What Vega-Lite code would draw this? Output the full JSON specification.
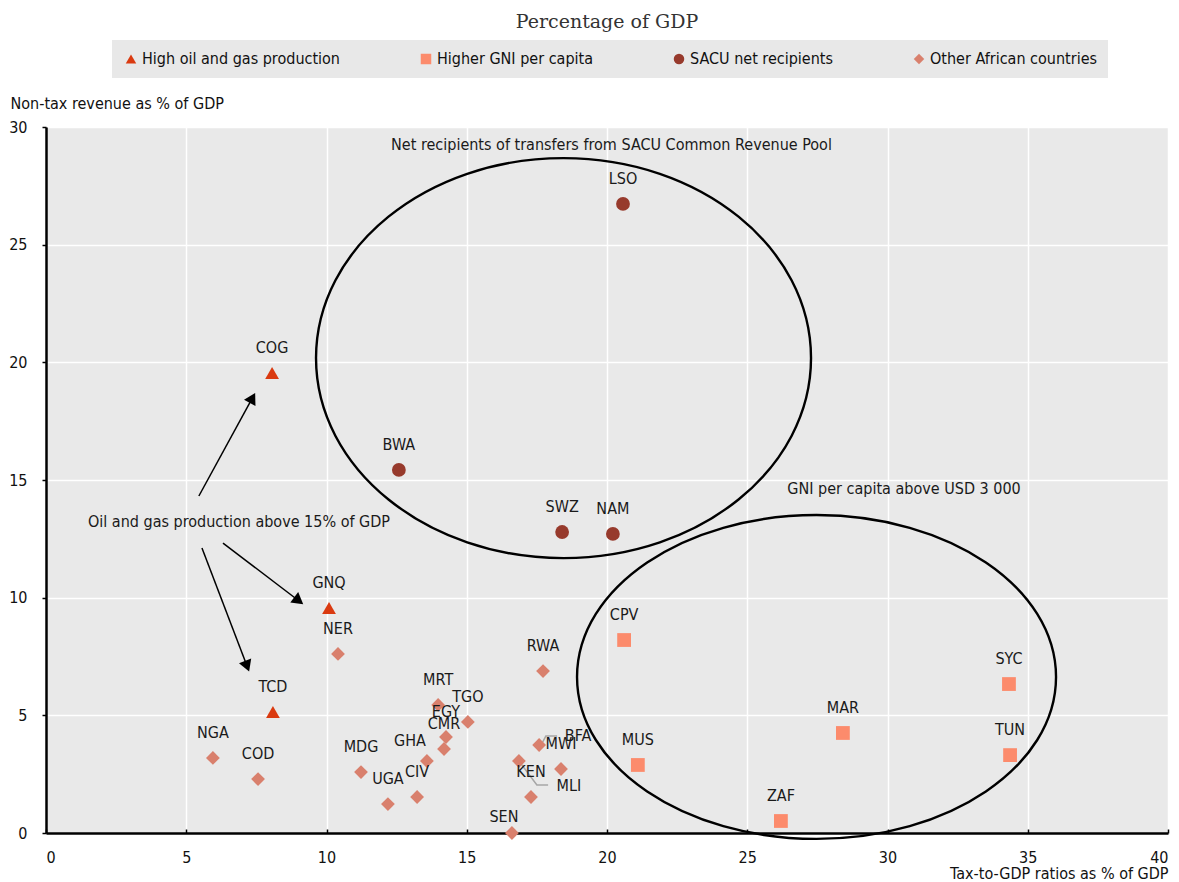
{
  "$schema": "https://vega.github.io/schema/vega-lite/v6.json",
  "width": 1122,
  "height": 706,
  "autosize": {"type": "none"},
  "padding": {"left": 46, "top": 127, "right": 11, "bottom": 49},
  "background": "white",
  "title": {
    "text": "Percentage of GDP",
    "font": "DejaVu Serif",
    "fontSize": 19,
    "fontWeight": "normal",
    "color": "#333333",
    "anchor": "middle",
    "offset": 8
  },
  "config": {
    "font": "Liberation Sans Narrow, DejaVu Sans Condensed, Arial Narrow, sans-serif",
    "view": {"fill": "#e9e9e9", "stroke": null},
    "axis": {
      "labelFont": "Liberation Sans Narrow, DejaVu Sans Condensed, sans-serif",
      "titleFont": "Liberation Sans Narrow, DejaVu Sans Condensed, sans-serif",
      "labelFontSize": 16,
      "titleFontSize": 16,
      "titleFontWeight": "normal",
      "labelColor": "#111111",
      "titleColor": "#111111",
      "domainColor": "#000000",
      "domainWidth": 2.5,
      "tickColor": "#000000",
      "tickWidth": 1.5,
      "gridColor": "#ffffff",
      "gridWidth": 1.5,
      "gridOpacity": 1
    },
    "legend": {
      "labelFont": "Liberation Sans Narrow, DejaVu Sans Condensed, sans-serif",
      "labelFontSize": 16,
      "labelColor": "#111111"
    }
  },
  "datasets": {
    "countries": [
      {"code": "COG", "group": "High oil and gas production", "tax": 8.06, "nontax": 19.55},
      {"code": "GNQ", "group": "High oil and gas production", "tax": 10.09, "nontax": 9.56},
      {"code": "TCD", "group": "High oil and gas production", "tax": 8.09, "nontax": 5.14},
      {"code": "LSO", "group": "SACU net recipients", "tax": 20.57, "nontax": 26.73},
      {"code": "BWA", "group": "SACU net recipients", "tax": 12.58, "nontax": 15.43},
      {"code": "SWZ", "group": "SACU net recipients", "tax": 18.40, "nontax": 12.79},
      {"code": "NAM", "group": "SACU net recipients", "tax": 20.21, "nontax": 12.71},
      {"code": "CPV", "group": "Higher GNI per capita", "tax": 20.61, "nontax": 8.20},
      {"code": "SYC", "group": "Higher GNI per capita", "tax": 34.33, "nontax": 6.33},
      {"code": "MAR", "group": "Higher GNI per capita", "tax": 28.41, "nontax": 4.25},
      {"code": "TUN", "group": "Higher GNI per capita", "tax": 34.37, "nontax": 3.31},
      {"code": "MUS", "group": "Higher GNI per capita", "tax": 21.10, "nontax": 2.89},
      {"code": "ZAF", "group": "Higher GNI per capita", "tax": 26.20, "nontax": 0.51},
      {"code": "NER", "group": "Other African countries", "tax": 10.41, "nontax": 7.61},
      {"code": "RWA", "group": "Other African countries", "tax": 17.72, "nontax": 6.88},
      {"code": "NGA", "group": "Other African countries", "tax": 5.95, "nontax": 3.19},
      {"code": "COD", "group": "Other African countries", "tax": 7.56, "nontax": 2.29},
      {"code": "MRT", "group": "Other African countries", "tax": 13.98, "nontax": 5.44},
      {"code": "TGO", "group": "Other African countries", "tax": 15.04, "nontax": 4.72},
      {"code": "EGY", "group": "Other African countries", "tax": 14.26, "nontax": 4.08},
      {"code": "CMR", "group": "Other African countries", "tax": 14.19, "nontax": 3.57},
      {"code": "GHA", "group": "Other African countries", "tax": 13.58, "nontax": 3.06},
      {"code": "MDG", "group": "Other African countries", "tax": 11.23, "nontax": 2.59},
      {"code": "UGA", "group": "Other African countries", "tax": 12.19, "nontax": 1.23},
      {"code": "CIV", "group": "Other African countries", "tax": 13.23, "nontax": 1.53},
      {"code": "SEN", "group": "Other African countries", "tax": 16.61, "nontax": 0.0},
      {"code": "MLI", "group": "Other African countries", "tax": 16.86, "nontax": 3.06},
      {"code": "BFA", "group": "Other African countries", "tax": 17.58, "nontax": 3.74},
      {"code": "MWI", "group": "Other African countries", "tax": 18.36, "nontax": 2.72},
      {"code": "KEN", "group": "Other African countries", "tax": 17.29, "nontax": 1.53}
    ],
    "notes": [
      {"text": "Net recipients of transfers from SACU Common Revenue Pool", "tax": 20.16, "nontax": 29.24},
      {"text": "GNI per capita above USD 3 000", "tax": 30.59, "nontax": 14.62},
      {"text": "Oil and gas production above 15% of GDP", "tax": 6.88, "nontax": 13.22}
    ],
    "arrows": [
      {"id": "COG", "tax": 5.45, "nontax": 14.32, "tax2": 7.36, "nontax2": 18.49},
      {"id": "GNQ", "tax": 6.31, "nontax": 12.32, "tax2": 9.01, "nontax2": 9.87},
      {"id": "TCD", "tax": 5.56, "nontax": 12.11, "tax2": 7.17, "nontax2": 7.09}
    ],
    "leaders": [
      {"id": "BFA", "k": 1, "tax": 17.65, "nontax": 3.74},
      {"id": "BFA", "k": 2, "tax": 17.82, "nontax": 4.12},
      {"id": "BFA", "k": 3, "tax": 18.22, "nontax": 4.12},
      {"id": "MLI", "k": 1, "tax": 16.86, "nontax": 3.06},
      {"id": "MLI", "k": 2, "tax": 17.50, "nontax": 2.04},
      {"id": "MLI", "k": 3, "tax": 17.90, "nontax": 2.04}
    ]
  },
  "layer": [
    {
      "data": {"values": [{"tax": 18.45, "nontax": 20.18}]},
      "mark": {"type": "point", "shape": "M-1,0A1,0.808 0 1,1 1,0A1,0.808 0 1,1 -1,0Z", "size": 245025, "filled": false, "stroke": "#000000", "strokeWidth": 2.4, "opacity": 1},
      "encoding": {
        "x": {"field": "tax", "type": "quantitative"},
        "y": {"field": "nontax", "type": "quantitative"}
      }
    },
    {
      "data": {"values": [{"tax": 27.47, "nontax": 6.63}]},
      "mark": {"type": "point", "shape": "M-1,0A1,0.676 0 1,1 1,0A1,0.676 0 1,1 -1,0Z", "size": 229441, "filled": false, "stroke": "#000000", "strokeWidth": 2.4, "opacity": 1},
      "encoding": {
        "x": {"field": "tax", "type": "quantitative"},
        "y": {"field": "nontax", "type": "quantitative"}
      }
    },
    {
      "data": {"name": "arrows"},
      "mark": {"type": "rule", "color": "#000000", "strokeWidth": 1.5},
      "encoding": {
        "x": {"field": "tax", "type": "quantitative"},
        "y": {"field": "nontax", "type": "quantitative"},
        "x2": {"field": "tax2"},
        "y2": {"field": "nontax2"}
      }
    },
    {
      "data": {"name": "arrows"},
      "transform": [{"filter": "datum.id === 'COG'"}],
      "mark": {"type": "point", "shape": "triangle-up", "size": 170, "filled": true, "color": "#000000", "opacity": 1, "angle": 28.6},
      "encoding": {
        "x": {"field": "tax2", "type": "quantitative"},
        "y": {"field": "nontax2", "type": "quantitative"}
      }
    },
    {
      "data": {"name": "arrows"},
      "transform": [{"filter": "datum.id === 'GNQ'"}],
      "mark": {"type": "point", "shape": "triangle-up", "size": 170, "filled": true, "color": "#000000", "opacity": 1, "angle": 127.3},
      "encoding": {
        "x": {"field": "tax2", "type": "quantitative"},
        "y": {"field": "nontax2", "type": "quantitative"}
      }
    },
    {
      "data": {"name": "arrows"},
      "transform": [{"filter": "datum.id === 'TCD'"}],
      "mark": {"type": "point", "shape": "triangle-up", "size": 170, "filled": true, "color": "#000000", "opacity": 1, "angle": 159.1},
      "encoding": {
        "x": {"field": "tax2", "type": "quantitative"},
        "y": {"field": "nontax2", "type": "quantitative"}
      }
    },
    {
      "data": {"name": "leaders"},
      "mark": {"type": "line", "color": "#a6a6a6", "strokeWidth": 1.5},
      "encoding": {
        "x": {"field": "tax", "type": "quantitative"},
        "y": {"field": "nontax", "type": "quantitative"},
        "detail": {"field": "id"},
        "order": {"field": "k"}
      }
    },
    {
      "data": {"name": "countries"},
      "mark": {"type": "point", "filled": true, "opacity": 1, "size": 190},
      "encoding": {
        "x": {
          "field": "tax", "type": "quantitative",
          "scale": {"domain": [0, 40], "nice": false},
          "axis": {
            "values": [0, 5, 10, 15, 20, 25, 30, 35, 40],
            "tickSize": -4,
            "labelPadding": 20,
            "title": "Tax-to-GDP ratios as % of GDP",
            "titleAnchor": "end",
            "titleAlign": "right",
            "titleX": 1122,
            "titleY": 45,
            "titleBaseline": "alphabetic"
          }
        },
        "y": {
          "field": "nontax", "type": "quantitative",
          "scale": {"domain": [0, 30], "nice": false},
          "axis": {
            "values": [0, 5, 10, 15, 20, 25, 30],
            "tickSize": 4,
            "labelPadding": 15,
            "title": "Non-tax revenue as % of GDP",
            "titleAngle": 0,
            "titleAlign": "left",
            "titleAnchor": "start",
            "titleX": -36,
            "titleY": -19,
            "titleBaseline": "alphabetic"
          }
        },
        "color": {
          "field": "group", "type": "nominal",
          "scale": {
            "domain": ["High oil and gas production", "Higher GNI per capita", "SACU net recipients", "Other African countries"],
            "range": ["#da3a10", "#fc8b6c", "#973a2c", "#d9806d"]
          },
          "legend": {
            "title": null,
            "orient": "none",
            "legendX": 66,
            "legendY": -87,
            "direction": "horizontal",
            "fillColor": "#e8e8e8",
            "padding": 11,
            "columnPadding": 78,
            "symbolSize": 110,
            "labelOffset": 3,
            "labelLimit": 400
          }
        },
        "shape": {
          "field": "group", "type": "nominal",
          "scale": {
            "domain": ["High oil and gas production", "Higher GNI per capita", "SACU net recipients", "Other African countries"],
            "range": ["triangle-up", "square", "circle", "diamond"]
          },
          "legend": {
            "title": null,
            "orient": "none",
            "legendX": 66,
            "legendY": -87,
            "direction": "horizontal",
            "fillColor": "#e8e8e8",
            "padding": 11,
            "columnPadding": 78,
            "symbolSize": 110,
            "labelOffset": 3,
            "labelLimit": 400
          }
        }
      }
    },
    {
      "data": {"name": "countries"},
      "transform": [{"filter": "indexof(['GHA','SEN','BFA','MLI'], datum.code) < 0"}],
      "mark": {"type": "text", "fontSize": 16, "color": "#1a1a1a", "dy": -25, "baseline": "middle"},
      "encoding": {
        "x": {"field": "tax", "type": "quantitative"},
        "y": {"field": "nontax", "type": "quantitative"},
        "text": {"field": "code"}
      }
    },
    {
      "data": {"name": "countries"},
      "transform": [{"filter": "datum.code === 'GHA'"}],
      "mark": {"type": "text", "fontSize": 16, "color": "#1a1a1a", "dx": -17, "dy": -20, "baseline": "middle"},
      "encoding": {
        "x": {"field": "tax", "type": "quantitative"},
        "y": {"field": "nontax", "type": "quantitative"},
        "text": {"field": "code"}
      }
    },
    {
      "data": {"name": "countries"},
      "transform": [{"filter": "datum.code === 'SEN'"}],
      "mark": {"type": "text", "fontSize": 16, "color": "#1a1a1a", "dx": -8, "dy": -16, "baseline": "middle"},
      "encoding": {
        "x": {"field": "tax", "type": "quantitative"},
        "y": {"field": "nontax", "type": "quantitative"},
        "text": {"field": "code"}
      }
    },
    {
      "data": {"name": "countries"},
      "transform": [{"filter": "datum.code === 'BFA'"}],
      "mark": {"type": "text", "fontSize": 16, "color": "#1a1a1a", "dx": 39, "dy": -9, "baseline": "middle"},
      "encoding": {
        "x": {"field": "tax", "type": "quantitative"},
        "y": {"field": "nontax", "type": "quantitative"},
        "text": {"field": "code"}
      }
    },
    {
      "data": {"name": "countries"},
      "transform": [{"filter": "datum.code === 'MLI'"}],
      "mark": {"type": "text", "fontSize": 16, "color": "#1a1a1a", "dx": 50, "dy": 25, "baseline": "middle"},
      "encoding": {
        "x": {"field": "tax", "type": "quantitative"},
        "y": {"field": "nontax", "type": "quantitative"},
        "text": {"field": "code"}
      }
    },
    {
      "data": {"name": "notes"},
      "mark": {"type": "text", "fontSize": 16, "color": "#1a1a1a", "baseline": "middle", "align": "center"},
      "encoding": {
        "x": {"field": "tax", "type": "quantitative"},
        "y": {"field": "nontax", "type": "quantitative"},
        "text": {"field": "text"}
      }
    }
  ]
}
